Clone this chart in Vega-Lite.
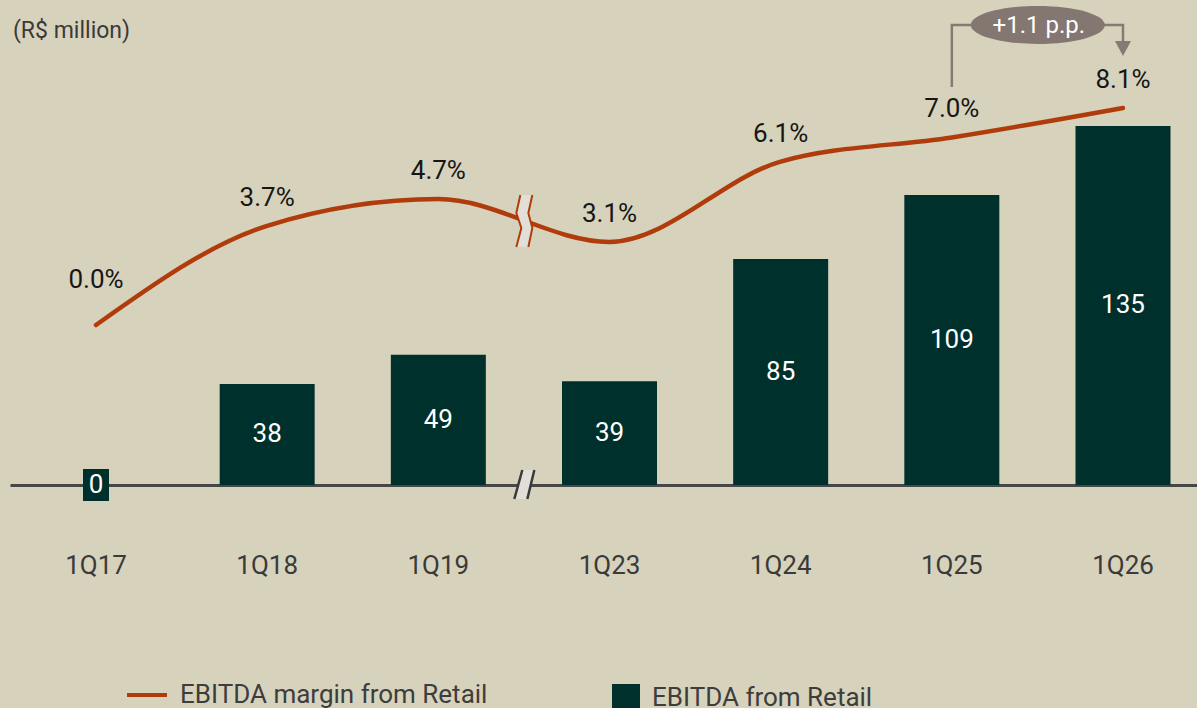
{
  "$schema": "https://vega.github.io/schema/vega-lite/v6.json",
  "autosize": "none",
  "width": 1199,
  "height": 425,
  "padding": {"left": 10, "top": 60, "right": 0, "bottom": 223},
  "background": "#d7d2bc",
  "title": {"text": "(R$ million)", "anchor": "start", "frame": "group", "orient": "top", "offset": 0, "dy": 55, "baseline": "alphabetic", "dx": 3, "font": "Roboto", "fontSize": 23, "fontWeight": "normal", "color": "#3a3a3a"},
  "config": {"view": {"stroke": null}, "font": "Roboto"},
  "datasets": {
    "main": [
      {"quarter": "1Q17", "ebitda": 0, "margin": 0.000},
      {"quarter": "1Q18", "ebitda": 38, "margin": 0.037},
      {"quarter": "1Q19", "ebitda": 49, "margin": 0.047},
      {"quarter": "1Q23", "ebitda": 39, "margin": 0.031},
      {"quarter": "1Q24", "ebitda": 85, "margin": 0.061},
      {"quarter": "1Q25", "ebitda": 109, "margin": 0.070},
      {"quarter": "1Q26", "ebitda": 135, "margin": 0.081}
    ],
    "bracket": [
      {"quarter": "1Q25", "level": 0.0888, "step": 1},
      {"quarter": "1Q25", "level": 0.1120, "step": 2},
      {"quarter": "1Q26", "level": 0.1120, "step": 3},
      {"quarter": "1Q26", "level": 0.1050, "step": 4}
    ],
    "note": [
      {"quarter": "1Q25", "level": 0.1120, "text": "+1.1 p.p."}
    ],
    "arrow": [
      {"quarter": "1Q26", "level": 0.1030}
    ]
  },
  "resolve": {"scale": {"y": "independent"}},
  "layer": [
    {
      "data": {"name": "main"},
      "mark": {"type": "bar"},
      "encoding": {
        "x": {"field": "quarter", "type": "nominal", "sort": null,
              "scale": {"paddingInner": 0.445, "paddingOuter": 0.225},
              "axis": {"title": null, "ticks": false, "domain": true, "domainColor": "#474747", "domainWidth": 3, "labelAngle": 0, "labelFont": "Roboto", "labelFontSize": 26, "labelColor": "#3a3a3a", "labelPadding": 80, "labelBaseline": "middle", "zindex": 0, "grid": false}},
        "y": {"field": "ebitda", "type": "quantitative", "scale": {"domain": [0, 159.8]}, "axis": null},
        "fill": {"datum": "EBITDA from Retail", "type": "nominal", "scale": {"range": ["#00302b"]},
                 "legend": {"title": null, "orient": "none", "legendX": 602, "legendY": 624, "symbolType": "square", "symbolSize": 784, "symbolStrokeWidth": 0, "labelOffset": 12, "labelLimit": 600, "labelFont": "Roboto", "labelFontSize": 26, "labelColor": "#3d3d3d", "padding": 0}}
      }
    },
    {
      "data": {"name": "main"},
      "transform": [{"filter": "datum.ebitda === 0"}],
      "mark": {"type": "point", "shape": "M-13,-16H13V16H-13Z", "size": 4, "filled": true, "color": "#00302b", "fill": "#00302b", "opacity": 1, "strokeWidth": 0},
      "encoding": {
        "x": {"field": "quarter", "type": "nominal", "sort": null, "title": null},
        "y": {"field": "ebitda", "type": "quantitative", "scale": {"domain": [0, 159.8]}, "axis": null}
      }
    },
    {
      "data": {"name": "main"},
      "mark": {"type": "text", "color": "#ffffff", "font": "Roboto", "fontSize": 26, "baseline": "middle", "align": "center"},
      "encoding": {
        "x": {"field": "quarter", "type": "nominal", "sort": null, "title": null},
        "y": {"field": "ebitda", "type": "quantitative", "scale": {"domain": [0, 319.6]}, "axis": null},
        "text": {"field": "ebitda", "type": "quantitative", "format": "d"}
      }
    },
    {
      "data": {"name": "main"},
      "mark": {"type": "line", "interpolate": "monotone", "strokeWidth": 4.5, "strokeCap": "round"},
      "encoding": {
        "x": {"field": "quarter", "type": "nominal", "sort": null, "title": null},
        "y": {"field": "margin", "type": "quantitative", "scale": {"domain": [-0.0597, 0.0989]}, "axis": null},
        "stroke": {"datum": "EBITDA margin from Retail", "type": "nominal", "scale": {"range": ["#b03c0c"]},
                   "legend": {"title": null, "orient": "none", "legendX": 115, "legendY": 613, "symbolType": "stroke", "symbolSize": 1600, "symbolStrokeWidth": 4, "labelOffset": 11, "labelLimit": 600, "labelFont": "Roboto", "labelFontSize": 26, "labelColor": "#3d3d3d", "padding": 0}}
      }
    },
    {
      "data": {"values": [{"quarter": "1Q19", "level": 0.0388}]},
      "mark": {"type": "point", "shape": "M82,-26L94,-26L90,-8L94,7L90,26L78,26L83,7L78,-8Z", "size": 4, "filled": true, "color": "#e2dfd9", "fill": "#e2dfd9", "opacity": 1, "fillOpacity": 1, "strokeWidth": 0},
      "encoding": {
        "x": {"field": "quarter", "type": "nominal", "title": null},
        "y": {"field": "level", "type": "quantitative", "scale": {"domain": [-0.0597, 0.0989]}, "axis": null}
      }
    },
    {
      "data": {"values": [{"quarter": "1Q19", "level": 0.0388}]},
      "mark": {"type": "point", "shape": "M82,-26L78,-8L83,7L78,26M94,-26L90,-8L94,7L90,26", "size": 4, "filled": false, "color": "#b03c0c", "stroke": "#b03c0c", "strokeWidth": 2, "opacity": 1},
      "encoding": {
        "x": {"field": "quarter", "type": "nominal", "title": null},
        "y": {"field": "level", "type": "quantitative", "scale": {"domain": [-0.0597, 0.0989]}, "axis": null}
      }
    },
    {
      "data": {"values": [{"quarter": "1Q19", "level": 0}]},
      "mark": {"type": "point", "shape": "M84,-15L96,-15L89,14L76,14Z", "size": 4, "filled": true, "color": "#e2dfd9", "fill": "#e2dfd9", "opacity": 1, "fillOpacity": 1, "strokeWidth": 0},
      "encoding": {
        "x": {"field": "quarter", "type": "nominal", "title": null},
        "y": {"field": "level", "type": "quantitative", "scale": {"domain": [0, 159.8]}, "axis": null}
      }
    },
    {
      "data": {"values": [{"quarter": "1Q19", "level": 0}]},
      "mark": {"type": "point", "shape": "M84,-15L76,14M96,-15L89,14", "size": 4, "filled": false, "color": "#3a3a3a", "stroke": "#3a3a3a", "strokeWidth": 2.5, "opacity": 1},
      "encoding": {
        "x": {"field": "quarter", "type": "nominal", "title": null},
        "y": {"field": "level", "type": "quantitative", "scale": {"domain": [0, 159.8]}, "axis": null}
      }
    },
    {
      "data": {"name": "main"},
      "transform": [{"filter": "datum.margin > 0"}],
      "mark": {"type": "text", "color": "#161616", "font": "Roboto", "fontSize": 26, "baseline": "middle", "align": "center", "dy": -28},
      "encoding": {
        "x": {"field": "quarter", "type": "nominal", "sort": null, "title": null},
        "y": {"field": "margin", "type": "quantitative", "scale": {"domain": [-0.0597, 0.0989]}, "axis": null},
        "text": {"field": "margin", "type": "quantitative", "format": ".1%"}
      }
    },
    {
      "data": {"name": "main"},
      "transform": [{"filter": "datum.margin === 0"}],
      "mark": {"type": "text", "color": "#161616", "font": "Roboto", "fontSize": 26, "baseline": "middle", "align": "center", "dy": -45},
      "encoding": {
        "x": {"field": "quarter", "type": "nominal", "sort": null, "title": null},
        "y": {"field": "margin", "type": "quantitative", "scale": {"domain": [-0.0597, 0.0989]}, "axis": null},
        "text": {"field": "margin", "type": "quantitative", "format": ".1%"}
      }
    },
    {
      "data": {"name": "bracket"},
      "mark": {"type": "line", "stroke": "#857a74", "strokeWidth": 2.5, "interpolate": "linear"},
      "encoding": {
        "x": {"field": "quarter", "type": "nominal", "title": null},
        "y": {"field": "level", "type": "quantitative", "scale": {"domain": [-0.0597, 0.0989]}, "axis": null},
        "order": {"field": "step", "type": "quantitative"}
      }
    },
    {
      "data": {"name": "arrow"},
      "mark": {"type": "point", "shape": "M-8,-8L8,-8L0,7Z", "size": 4, "filled": true, "color": "#857a74", "fill": "#857a74", "opacity": 1, "strokeWidth": 0},
      "encoding": {
        "x": {"field": "quarter", "type": "nominal", "title": null},
        "y": {"field": "level", "type": "quantitative", "scale": {"domain": [-0.0597, 0.0989]}, "axis": null}
      }
    },
    {
      "data": {"name": "note"},
      "mark": {"type": "point", "shape": "M19,0A67,19 0 1,1 153,0A67,19 0 1,1 19,0Z", "size": 4, "filled": true, "color": "#847670", "fill": "#847670", "opacity": 1, "strokeWidth": 0},
      "encoding": {
        "x": {"field": "quarter", "type": "nominal", "title": null},
        "y": {"field": "level", "type": "quantitative", "scale": {"domain": [-0.0597, 0.0989]}, "axis": null}
      }
    },
    {
      "data": {"name": "note"},
      "mark": {"type": "text", "color": "#ffffff", "font": "Roboto", "fontSize": 24, "baseline": "middle", "align": "center", "dx": 87, "dy": 1},
      "encoding": {
        "x": {"field": "quarter", "type": "nominal", "title": null},
        "y": {"field": "level", "type": "quantitative", "scale": {"domain": [-0.0597, 0.0989]}, "axis": null},
        "text": {"field": "text", "type": "nominal"}
      }
    }
  ]
}
